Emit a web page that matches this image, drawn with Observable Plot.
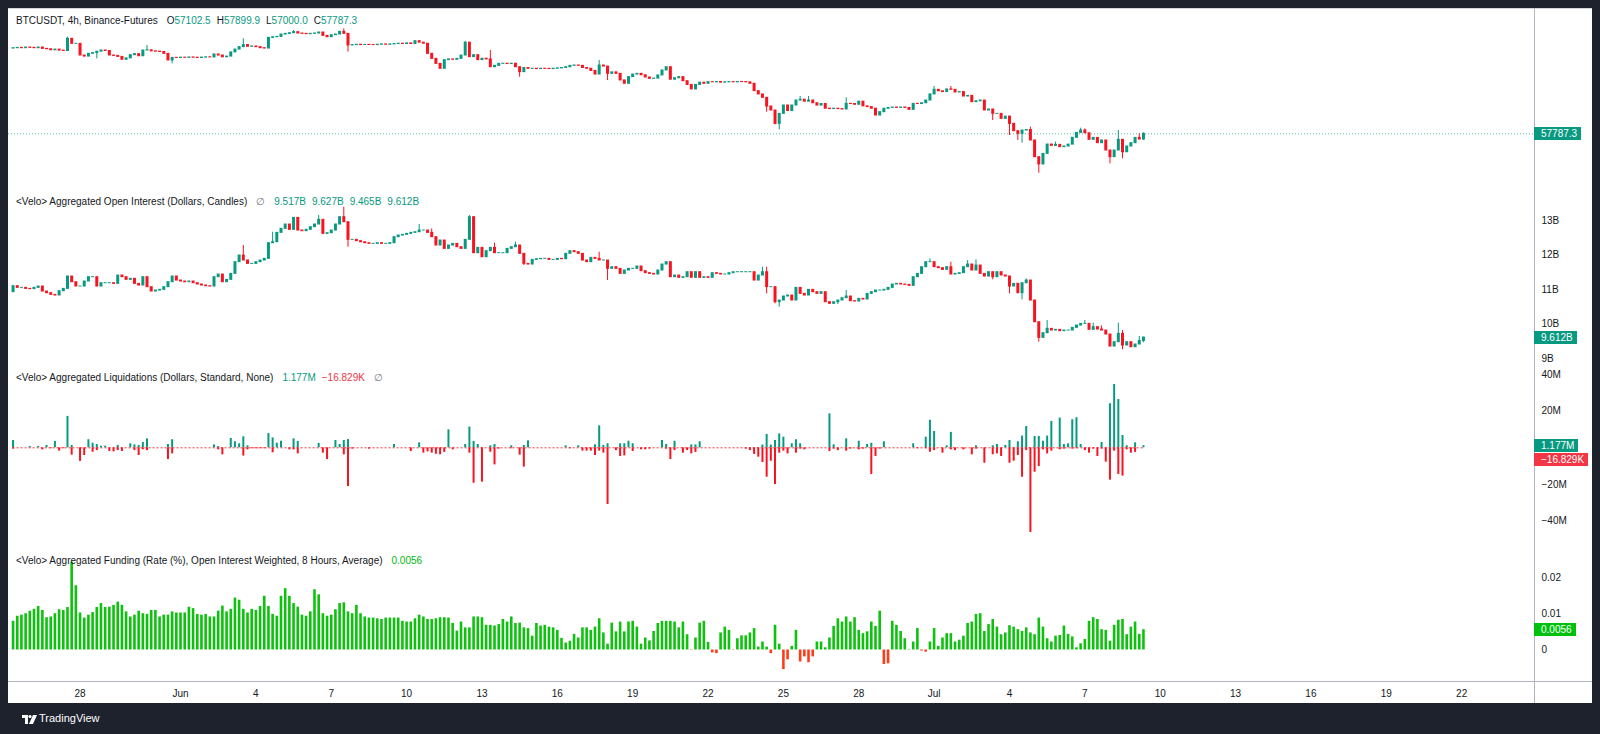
<!DOCTYPE html>
<html>
<head>
<meta charset="utf-8">
<script src="https://cdn.jsdelivr.net/npm/d3@7"></script>
<script src="https://cdn.jsdelivr.net/npm/@observablehq/plot@0.6"></script>
<style>
html,body{margin:0;padding:0;background:#1e222d;}
#root{position:relative;width:1600px;height:734px;background:#1e222d;overflow:hidden;font-family:"Liberation Sans",Arial,sans-serif;}
#panel{position:absolute;left:8px;top:8px;width:1584px;height:695px;background:#fff;border-top:1px solid #d1d4dc;box-sizing:border-box;}
.pane{position:absolute;left:8px;}
.t{position:absolute;left:16px;display:flex;align-items:baseline;font-size:10px;line-height:12px;white-space:nowrap;color:#131722;}
.t span{margin-left:6px;}
.t span.first{margin-left:0;}
.t span.wide{margin-left:9px;}
.teal{color:#089981;}
.red{color:#f23645;}
.grn{color:#00b80c;}
.gray{color:#787b86;}
.dk{color:#131722;}
.tag{position:absolute;left:1534px;height:13px;line-height:13px;font-size:10px;color:#fff;padding:0 4px 0 7px;white-space:nowrap;}
.vline{position:absolute;left:1534px;top:8px;width:1px;height:695px;background:#b2b5be;}
.hline{position:absolute;left:8px;top:681px;width:1584px;height:1px;background:#b2b5be;}
#logo{position:absolute;left:22px;top:711px;}
#logotxt{position:absolute;left:39px;top:712px;font-size:11px;color:#fff;font-family:"Liberation Sans",Arial,sans-serif;}
</style>
</head>
<body>
<div id="root">
  <div id="panel"></div>
</div>
<script>
// ---------- DATA ----------
// 4h bars, first bar 2024-05-25 08:00 UTC
const firstBar = "2024-05-25T08:00:00Z";

const btcOpen0 = 69050;
const btcClose = [
69100,69150,69100,69200,69150,69100,69200,69000,68950,68800,
68900,68750,68700,70470,69730,69730,68050,67900,68300,68400,
68600,68770,68700,68050,68000,67850,67450,67650,68100,68250,
67950,68770,68800,68650,68600,68550,68290,67350,67720,67700,
67750,67720,67780,67740,67700,67760,67800,67780,68200,68050,
67800,67900,68500,68900,69250,69550,69300,69350,69250,69100,
69050,70610,70700,70750,71100,71200,71300,71450,71250,71200,
71150,71200,71250,71400,70900,70700,71000,71100,71500,71200,
69500,69550,69600,69550,69580,69560,69550,69600,69650,69600,
69650,69700,69750,69700,69800,69700,70120,69900,69750,68290,
67580,66880,66190,67400,67500,67450,67580,68050,69900,67820,
68100,67400,67600,67500,66410,66600,66880,66900,66850,66900,
66410,65730,66300,66190,66200,66150,66200,66180,66150,66200,
66250,66300,66400,66600,66650,66600,66300,66200,65900,65400,
66650,66500,65500,65700,65500,64600,64150,65050,65400,65500,
65300,65000,64820,64850,65280,65960,66410,64700,64900,65050,
64500,64000,63400,64000,64300,64150,64370,64350,64400,64300,
64350,64380,64350,64400,64380,64350,64150,63170,62740,62300,
61180,60670,59000,60250,61310,60600,61310,61950,62050,61800,
61950,61600,61300,61500,60900,60850,60900,60850,60800,61520,
61500,61400,61800,61200,61100,60900,60040,60460,60890,61000,
61050,61000,61050,61000,60750,61520,61500,61600,61950,62740,
63350,63150,63050,63400,63350,63000,63050,62470,62550,61740,
61850,61950,60670,60800,60250,60250,59620,59900,59000,58110,
57800,58190,58250,56990,55040,54210,55420,56510,56350,56470,
56200,56280,56500,57310,57900,58190,57850,57070,57300,56670,
56990,55810,55040,55810,57070,55610,56280,56670,57300,57102.5,
57787.3
];
// [bar, high, low] where a wick sticks out of the body
const btcWicks = [
[13,70700,null],[20,null,67580],[32,69490,null],[38,null,66880],[55,70470,null],
[67,71700,null],[79,71950,null],[80,null,68530],[108,70050,null],[114,68770,null],
[121,null,65030],[140,67350,null],[142,null,64590],[180,null,60460],[182,null,58880],
[183,null,58270],[188,62470,null],[190,62470,null],[199,62300,null],[220,63790,null],
[224,63790,null],[234,null,59410],[238,null,57590],[240,null,56990],[241,null,56670],
[243,58600,null],[245,null,53230],[249,56800,null],[255,58470,null],[256,58390,null],
[262,null,54280],[264,58190,null],[265,null,54850],[269,57800,null],[270,57899.9,57000]
];

// Open interest, billions of dollars
const oiOpen0 = 10.926;
const oiClose = [
11.100,11.051,11.051,11.022,11.013,11.051,11.090,10.945,10.897,10.849,
10.830,10.955,11.022,11.379,11.215,11.090,11.090,11.235,11.360,11.360,
11.090,11.186,11.186,11.186,11.167,11.408,11.360,11.283,11.312,11.167,
11.119,11.360,11.071,10.945,10.974,10.994,11.071,11.215,11.379,11.263,
11.235,11.215,11.235,11.186,11.148,11.119,11.100,11.090,11.360,11.437,
11.215,11.283,11.456,11.794,11.986,11.842,11.745,11.745,11.794,11.842,
11.890,12.343,12.372,12.642,12.758,12.883,12.729,13.076,12.709,12.690,
12.729,12.806,12.883,13.018,12.613,12.632,12.709,12.883,13.095,12.950,
12.440,12.440,12.401,12.372,12.343,12.324,12.324,12.343,12.324,12.324,
12.343,12.517,12.565,12.584,12.613,12.642,12.661,12.709,12.709,12.642,
12.517,12.276,12.420,12.179,12.276,12.324,12.227,12.179,12.440,13.095,
12.054,12.208,11.938,12.112,12.208,12.054,12.054,12.054,12.179,12.227,
12.276,12.035,11.745,11.726,11.861,11.880,11.890,11.890,11.861,11.861,
11.890,11.880,12.035,12.112,12.083,12.035,11.842,11.794,11.919,11.890,
11.842,11.842,11.601,11.649,11.601,11.456,11.553,11.601,11.601,11.668,
11.533,11.476,11.456,11.437,11.553,11.726,11.794,11.360,11.408,11.341,
11.360,11.504,11.341,11.504,11.341,11.360,11.341,11.476,11.456,11.437,
11.437,11.476,11.504,11.504,11.504,11.504,11.504,11.263,11.408,11.504,
11.071,11.071,10.637,10.685,10.801,10.830,10.685,11.051,10.878,10.830,
10.994,10.926,10.878,10.926,10.637,10.589,10.637,10.685,10.753,10.801,
10.666,10.656,10.733,10.714,10.878,10.926,10.974,10.974,10.994,11.051,
11.148,11.167,11.148,11.138,11.109,11.360,11.456,11.649,11.794,11.794,
11.649,11.620,11.572,11.649,11.437,11.456,11.476,11.649,11.726,11.553,
11.697,11.456,11.379,11.504,11.360,11.504,11.408,11.379,11.090,11.167,
10.897,11.186,11.263,10.685,10.058,9.605,9.740,9.866,9.817,9.837,
9.798,9.817,9.817,9.895,9.962,10.010,10.010,9.837,9.914,9.846,
9.817,9.702,9.355,9.480,9.721,9.384,9.480,9.335,9.413,9.517,
9.612
];
const oiWicks = [
[55,12.276,null],[62,12.661,null],[73,13.143,null],[79,13.384,null],[80,null,12.227],
[97,12.883,null],[100,12.758,null],[109,13.143,null],[115,12.343,null],[120,12.372,null],
[122,null,11.697],[140,12.083,null],[142,null,11.263],[179,11.649,null],[180,11.649,10.878],
[182,null,10.589],[183,null,10.492],[197,null,10.569],[199,10.974,null],[219,11.890,null],
[224,11.794,null],[228,11.842,null],[230,11.861,null],[234,null,11.283],[238,null,10.878],
[241,null,10.704],[242,11.312,null],[245,null,9.480],[247,10.107,null],[256,10.107,null],
[258,10.030,null],[260,9.952,null],[264,10.030,null],[265,9.817,9.258],[269,9.644,null],
[270,9.627,9.465]
];

// Liquidations, millions of dollars: [bar, value]
const liqShortSide = [
[0,4.0],[4,0.7],[6,0.7],[8,1.3],[10,3.5],[13,17.1],[14,1.3],[18,4.4],[19,2.5],[20,1.8],
[21,0.9],[22,0.9],[25,1.3],[28,2.2],[29,1.6],[30,1.3],[31,2.9],[32,4.9],[37,1.8],[38,4.4],
[48,1.6],[49,0.7],[52,5.1],[53,3.3],[54,2.2],[55,6.0],[56,1.1],[61,7.8],[62,5.4],[63,2.5],
[64,3.6],[67,4.9],[68,3.5],[73,2.4],[77,4.0],[78,1.8],[79,4.0],[80,4.5],[91,1.8],[97,2.7],
[104,9.8],[108,1.8],[109,11.3],[110,3.5],[111,1.8],[114,1.1],[115,1.8],[119,1.1],[122,1.3],[123,3.8],
[132,1.1],[135,1.1],[139,1.6],[140,12.0],[141,1.3],[142,2.2],[145,2.2],[146,2.2],[147,3.6],[148,2.2],
[155,4.0],[156,1.8],[158,3.6],[162,1.6],[163,1.6],[164,3.3],[179,1.5],[180,7.3],[181,1.5],[182,4.0],
[183,7.6],[184,5.8],[186,2.2],[187,4.4],[188,2.2],[195,18.5],[196,1.6],[199,4.9],[202,3.6],[204,1.8],
[205,2.5],[208,3.3],[215,2.2],[218,5.8],[219,15.0],[220,8.9],[223,1.1],[224,8.4],[230,1.1],[234,1.1],
[235,1.8],[237,1.3],[238,4.0],[240,3.3],[241,6.4],[242,11.6],[244,6.2],[245,6.2],[246,3.6],[247,6.4],
[248,14.4],[250,16.2],[251,1.8],[252,2.2],[253,15.3],[254,16.4],[255,1.8],[260,2.9],[262,24.0],[263,34.5],
[264,26.3],[265,6.7],[266,1.1],[268,2.7],[270,1.177]
];
const liqLongSide = [
[0,-0.7],[7,-1.1],[9,-0.5],[11,-1.8],[12,-0.5],[14,-4.0],[16,-7.4],[17,-4.2],[19,-2.4],[20,-1.5],
[23,-2.0],[24,-2.2],[25,-1.5],[26,-2.0],[29,-1.5],[30,-4.2],[31,-1.1],[32,-1.5],[37,-6.4],[38,-3.3],
[49,-1.1],[50,-3.8],[55,-4.5],[56,-1.1],[57,-0.5],[58,-0.5],[59,-0.5],[60,-0.5],[62,-2.7],[66,-1.1],
[67,-1.1],[68,-3.3],[74,-2.9],[75,-6.4],[79,-3.8],[80,-21.1],[81,-0.7],[85,-0.7],[95,-2.0],[98,-2.9],
[99,-2.2],[100,-2.9],[101,-3.5],[102,-3.8],[103,-2.5],[105,-1.1],[109,-2.9],[110,-19.3],[112,-18.7],[114,-2.4],
[115,-9.3],[116,-0.7],[119,-0.5],[121,-4.0],[122,-10.5],[133,-0.5],[136,-1.8],[137,-1.8],[138,-1.8],[139,-4.2],
[140,-1.8],[141,-2.9],[142,-30.9],[144,-1.5],[145,-4.7],[146,-4.4],[148,-2.0],[150,-1.1],[151,-1.1],[152,-0.7],
[156,-0.7],[157,-6.4],[158,-1.5],[160,-2.9],[161,-1.5],[162,-3.3],[163,-2.5],[175,-0.7],[176,-1.5],[177,-3.6],
[178,-5.1],[179,-8.0],[180,-16.0],[181,-7.3],[182,-20.0],[183,-2.9],[184,-1.8],[185,-3.3],[187,-2.9],[188,-0.7],
[189,-1.1],[195,-2.0],[196,-0.7],[197,-1.5],[199,-1.8],[200,-0.7],[202,-1.1],[203,-0.7],[205,-14.5],[206,-4.7],
[207,-0.7],[216,-0.5],[218,-0.5],[219,-2.4],[220,-1.5],[222,-2.9],[224,-1.1],[225,-1.5],[227,-1.1],[229,-3.8],
[230,-0.7],[232,-8.4],[234,-3.8],[235,-3.3],[236,-4.7],[238,-8.4],[239,-7.3],[240,-4.2],[241,-16.0],[242,-1.5],
[243,-46.1],[244,-13.3],[245,-10.2],[246,-1.1],[247,-3.3],[248,-1.8],[250,-1.1],[251,-0.7],[253,-0.7],[254,-0.5],
[256,-1.5],[257,-2.9],[258,-0.7],[259,-4.7],[260,-0.7],[261,-7.8],[262,-17.6],[263,-1.8],[264,-14.5],[265,-15.4],
[266,-1.1],[267,-2.9],[268,-2.5],[270,-0.016829]
];

// Funding rate, %
const funding = [
.0079,.0093,.0096,.0100,.0107,.0112,.0120,.0109,.0089,.0091,
.0100,.0111,.0109,.0117,.0242,.0177,.0102,.0088,.0096,.0103,
.0117,.0128,.0117,.0118,.0123,.0132,.0123,.0105,.0091,.0096,
.0107,.0100,.0098,.0109,.0109,.0091,.0096,.0096,.0105,.0102,
.0102,.0102,.0118,.0114,.0098,.0096,.0098,.0091,.0091,.0107,
.0121,.0105,.0112,.0143,.0137,.0112,.0102,.0112,.0109,.0120,
.0148,.0120,.0098,.0093,.0148,.0169,.0148,.0128,.0118,.0096,
.0093,.0105,.0166,.0152,.0100,.0093,.0096,.0111,.0128,.0130,
.0105,.0100,.0123,.0100,.0091,.0088,.0088,.0086,.0084,.0088,
.0088,.0088,.0088,.0079,.0077,.0077,.0086,.0096,.0091,.0084,
.0084,.0086,.0089,.0089,.0088,.0073,.0052,.0077,.0061,.0061,
.0091,.0091,.0089,.0068,.0068,.0066,.0070,.0084,.0077,.0091,
.0073,.0074,.0061,.0059,.0038,.0073,.0066,.0068,.0063,.0061,
.0054,.0032,.0019,.0024,.0043,.0033,.0061,.0061,.0054,.0063,
.0086,.0047,.0016,.0074,.0050,.0077,.0050,.0077,.0079,.0063,
.0016,.0033,.0025,.0051,.0073,.0079,.0079,.0079,.0077,.0061,
.0077,.0042,-.0001,.0033,.0074,.0079,.0021,-.0008,-.0010,.0047,
.0063,.0054,-.0001,.0031,.0039,.0039,.0047,.0059,.0008,.0022,
.0008,-.0010,.0068,.0016,-.0054,-.0027,.0010,.0054,-.0033,-.0019,
-.0035,-.0019,.0022,.0022,.0006,.0033,.0065,.0086,.0077,.0091,
.0077,.0089,.0054,.0045,.0050,.0077,.0065,.0107,-.0040,-.0038,
.0079,.0068,.0051,.0031,.0001,.0022,.0059,-.0003,-.0006,.0022,
.0059,.0010,.0033,.0045,.0045,.0022,.0027,.0038,.0073,.0077,
.0098,.0100,.0051,.0070,.0084,.0063,.0042,.0047,.0067,.0063,
.0056,.0051,.0061,.0047,.0042,.0088,.0063,.0031,.0022,.0038,
.0040,.0066,.0043,.0036,.0006,.0017,.0029,.0079,.0089,.0084,
.0056,.0054,.0024,.0068,.0082,.0084,.0042,.0063,.0077,.0043,
.0056
];

// Tick values / labels
const btcTicks = [52000,55000,59000,63000,68000,72000];
const oiTicks = [9,10,11,12,13];
const liqTicks = [-40,-20,20,40];
const fundTicks = [0,0.01,0.02];
const dateTicks = ["2024-05-28","2024-06-01","2024-06-04","2024-06-07","2024-06-10","2024-06-13",
  "2024-06-16","2024-06-19","2024-06-22","2024-06-25","2024-06-28","2024-07-01","2024-07-04",
  "2024-07-07","2024-07-10","2024-07-13","2024-07-16","2024-07-19","2024-07-22"];
const monthNames = ["Jan","Feb","Mar","Apr","May","Jun","Jul","Aug","Sep","Oct","Nov","Dec"];

// ---------- BUILD ----------
const GREEN = "#089981", RED = "#f7131f", FGREEN = "#0cc20c", FRED = "#ff3b1a";
const FONT = '"Liberation Sans", Arial, sans-serif';
const H4 = 4 * 3600 * 1000;
const t0 = new Date(firstBar).getTime();
const barDate = i => new Date(t0 + i * H4);
const xDomain = [new Date("2024-05-25T03:39:00Z"), new Date("2024-07-24T21:37:00Z")];
const W = 1584, MR = 58;

function candles(open0, closes, wicks) {
  const wm = new Map(wicks.map(w => [w[0], w]));
  return closes.map((c, i) => {
    const o = i === 0 ? open0 : closes[i - 1];
    const w = wm.get(i);
    return {
      date: barDate(i), o, c,
      top: Math.max(o, c), bot: Math.min(o, c),
      hi: w && w[1] != null ? w[1] : Math.max(o, c),
      lo: w && w[2] != null ? w[2] : Math.min(o, c),
      up: c >= o
    };
  });
}
const btc = candles(btcOpen0, btcClose, btcWicks);
const oi = candles(oiOpen0, oiClose, oiWicks);
const liqPos = liqShortSide.map(([i, v]) => ({date: barDate(i), v}));
const liqNeg = liqLongSide.map(([i, v]) => ({date: barDate(i), v}));
const fund = funding.map((v, i) => ({date: barDate(i), v}));

const root = document.getElementById("root");
function base(height, y, marks) {
  return Plot.plot({
    width: W, height, marginLeft: 0, marginRight: MR, marginTop: 0, marginBottom: 0,
    style: {fontFamily: FONT, fontSize: "10px", color: "#131722", background: "transparent", overflow: "visible"},
    x: {type: "utc", domain: xDomain, axis: null},
    y: {...y, label: null},
    marks
  });
}
function place(svg, top) {
  const d = document.createElement("div");
  d.className = "pane"; d.style.top = top + "px";
  d.appendChild(svg); root.appendChild(d);
}
function candleMarks(data) {
  const col = d => d.up ? GREEN : RED;
  return [
    Plot.ruleX(data, {x: "date", y1: "hi", y2: "lo", stroke: col, strokeWidth: 1, clip: true}),
    Plot.ruleX(data, {x: "date", y1: "top", y2: "bot", stroke: col, strokeWidth: 3, insetTop: -0.5, insetBottom: -0.5, clip: true})
  ];
}
function axis(ticks, fmt) {
  return Plot.axisY(ticks, {anchor: "right", tickSize: 0, tickPadding: 7, tickFormat: fmt, fontSize: 10, fill: "#131722"});
}
function tag(text, bg, top) {
  const d = document.createElement("div");
  d.className = "tag"; d.textContent = text; d.style.background = bg; d.style.top = top + "px";
  root.appendChild(d); return d;
}
function legend(parts, top) {
  const d = document.createElement("div");
  d.className = "t"; d.style.top = top + "px";
  d.innerHTML = parts.map(([cls, txt], k) => '<span class="' + cls + (k === 0 ? ' first' : '') + '">' + txt + '</span>').join("");
  root.appendChild(d);
}

// Pane 1: BTCUSDT
const last = btcClose[btcClose.length - 1];
const P1T = 8;
const p1 = base(180, {type: "log", domain: [51555, 75070]}, [
  axis(btcTicks, d => d.toFixed(1)),
  Plot.ruleY([last], {stroke: GREEN, strokeDasharray: "1 2", strokeOpacity: 0.7}),
  ...candleMarks(btc)
]);
place(p1, P1T);

// Pane 2: open interest
const P2T = 188;
const p2 = base(178, {domain: [8.777, 13.925]}, [
  axis(oiTicks, d => d + "B"),
  ...candleMarks(oi)
]);
place(p2, P2T);

// Pane 3: liquidations
const P3T = 366;
const p3 = base(181, {domain: [-54.3, 44.3]}, [
  axis(liqTicks, d => (d < 0 ? "\u2212" : "") + Math.abs(d) + "M"),
  Plot.ruleY([{v: 0, a: barDate(0), b: barDate(btcClose.length - 1)}], {y: "v", x1: "a", x2: "b", stroke: RED, strokeDasharray: "2 2", strokeOpacity: 0.85}),
  Plot.ruleX(liqPos, {x: "date", y1: 0, y2: "v", stroke: GREEN, strokeWidth: 2, clip: true}),
  Plot.ruleX(liqNeg, {x: "date", y1: 0, y2: "v", stroke: RED, strokeWidth: 2, clip: true})
]);
place(p3, P3T);

// Pane 4: funding
const P4T = 547;
const p4 = base(134, {domain: [-0.00868, 0.02824]}, [
  axis(fundTicks, d => d === 0 ? "0" : String(d)),
  Plot.ruleX(fund, {x: "date", y1: 0, y2: "v", stroke: d => d.v >= 0 ? FGREEN : FRED, strokeWidth: 2.6, clip: true})
]);
place(p4, P4T);

// Time axis
const px = Plot.plot({
  width: W, height: 22, marginLeft: 0, marginRight: MR, marginTop: 0, marginBottom: 0,
  style: {fontFamily: FONT, fontSize: "10px", color: "#131722", background: "transparent", overflow: "visible"},
  x: {type: "utc", domain: xDomain, axis: null},
  marks: [
    Plot.text(dateTicks, {x: d => new Date(d + "T00:00:00Z"), frameAnchor: "middle", fill: "#131722", fontSize: 10,
      text: d => { const t = new Date(d + "T00:00:00Z"); return t.getUTCDate() === 1 ? monthNames[t.getUTCMonth()] : String(t.getUTCDate()); }})
  ]
});
place(px, 682);

// furniture lines
const vl = document.createElement("div"); vl.className = "vline"; root.appendChild(vl);
const hl = document.createElement("div"); hl.className = "hline"; root.appendChild(hl);

// Tags on the price scales
const fmtB = v => v.toFixed(3) + "B";
tag(last.toFixed(1), GREEN, P1T + p1.scale("y").apply(last) - 6.5);
tag(fmtB(oiClose[oiClose.length - 1]), GREEN, P2T + p2.scale("y").apply(oiClose[oiClose.length - 1]) - 6.5);
const lp = liqShortSide[liqShortSide.length - 1][1], ln = liqLongSide[liqLongSide.length - 1][1];
const lt = P3T + p3.scale("y").apply(lp) - 6.5;
tag(lp.toFixed(3) + "M", GREEN, lt);
tag("\u2212" + (Math.abs(ln) * 1000).toFixed(3) + "K", "#f23645", lt + 14);
const fl = funding[funding.length - 1];
tag(fl.toFixed(4), "#00c20d", P4T + p4.scale("y").apply(fl) - 6.5);

// Pane legends
const o = btc[btc.length - 1];
legend([
  ["dk", "BTCUSDT, 4h, Binance-Futures"],
  ["dk wide", 'O<span class="teal" style="margin:0">' + o.o.toFixed(1) + '</span>'],
  ["dk", 'H<span class="teal" style="margin:0">' + o.hi.toFixed(1) + '</span>'],
  ["dk", 'L<span class="teal" style="margin:0">' + o.lo.toFixed(1) + '</span>'],
  ["dk", 'C<span class="teal" style="margin:0">' + o.c.toFixed(1) + '</span>']
], 15);
const q = oi[oi.length - 1];
legend([
  ["dk", "&lt;Velo&gt; Aggregated Open Interest (Dollars, Candles)"],
  ["gray wide", "\u2205"],
  ["teal wide", fmtB(q.o)], ["teal", fmtB(q.hi)], ["teal", fmtB(q.lo)], ["teal", fmtB(q.c)]
], 196);
legend([
  ["dk", "&lt;Velo&gt; Aggregated Liquidations (Dollars, Standard, None)"],
  ["teal wide", lp.toFixed(3) + "M"],
  ["red", "\u2212" + (Math.abs(ln) * 1000).toFixed(3) + "K"],
  ["gray wide", "\u2205"]
], 372);
legend([
  ["dk", "&lt;Velo&gt; Aggregated Funding (Rate (%), Open Interest Weighted, 8 Hours, Average)"],
  ["grn wide", fl.toFixed(4)]
], 555);

// Footer logo
const lg = document.createElement("div");
lg.id = "logo";
lg.innerHTML = '<svg width="15" height="11" viewBox="0 0 15 11"><path d="M0 1h6v9H3V4H0z" fill="#fff"/><circle cx="8" cy="2.5" r="1.6" fill="#fff"/><path d="M11 1h4l-4 9H7z" fill="#fff"/></svg>';
root.appendChild(lg);
const lgt = document.createElement("div"); lgt.id = "logotxt"; lgt.textContent = "TradingView"; root.appendChild(lgt);
</script>
</body>
</html>
